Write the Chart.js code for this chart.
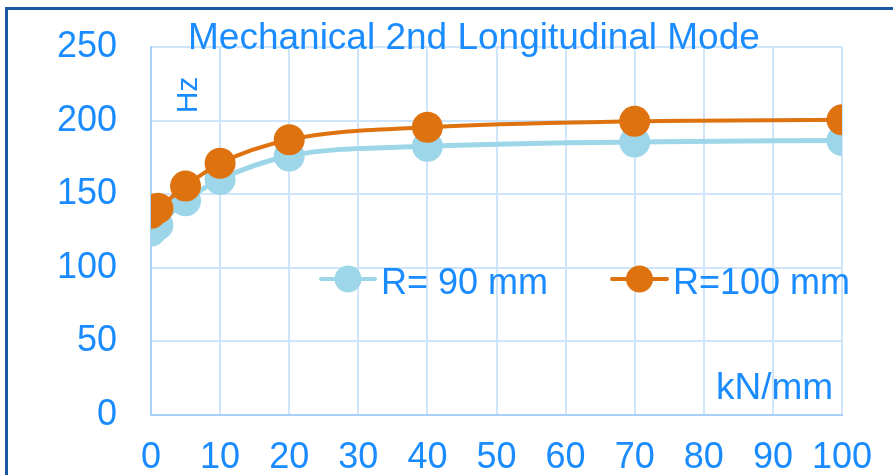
<!DOCTYPE html>
<html>
<head>
<meta charset="utf-8">
<script src="https://cdn.jsdelivr.net/npm/chart.js@4"></script>
<style>
  html, body { margin: 0; padding: 0; background: #fff; overflow: hidden; }
  #wrap { position: relative; width: 893px; height: 475px; }
  #frame {
    position: absolute; left: 5px; top: 7px; width: 1000px; height: 1000px;
    border: 3px solid #1b58a2; pointer-events: none;
  }
</style>
</head>
<body>
<div id="wrap">
  <canvas id="modeChart" width="893" height="475"></canvas>
  <div id="frame"></div>
</div>
<script>
  // stiffness (kN/mm)
  const stiffness = [0, 1, 5, 10, 20, 40, 70, 100];
  // frequency (Hz)
  const freqR90 = [125, 129, 145.5, 160, 176, 182.5, 185.5, 186.5];
  const freqR100 = [137, 140.5, 155.5, 171, 187, 195.5, 199.5, 200.5];
  const seriesLabels = ['R= 90 mm', 'R=100 mm'];
  const xTicks = [0, 10, 20, 30, 40, 50, 60, 70, 80, 90, 100];
  const yTicks = [0, 50, 100, 150, 200, 250];

  const textBlue = '#1a8cff';
  const fontFam = '"Liberation Sans", Arial, sans-serif';

  function toPoints(vals) {
    return stiffness.map((x, i) => ({ x: x, y: vals[i] }));
  }

  // 제목, 축 이름, 범례는 그림 안에 직접 그림
  const overlayText = {
    id: 'overlayText',
    afterDraw(chart) {
      const c = chart.ctx;
      c.save();
      c.fillStyle = textBlue;
      c.textBaseline = 'alphabetic';
      c.textAlign = 'left';

      c.font = '37px ' + fontFam;
      c.fillText('Mechanical 2nd Longitudinal Mode', 188, 49);

      c.font = '37px ' + fontFam;
      c.fillText('kN/mm', 716, 399);

      c.save();
      c.translate(197, 95);
      c.rotate(-Math.PI / 2);
      c.textAlign = 'center';
      c.font = '30px ' + fontFam;
      c.fillText('Hz', 0, 0);
      c.restore();

      // legend
      const items = [
        { x1: 321, x2: 375, tx: 381 },
        { x1: 612, x2: 667, tx: 673 }
      ];
      const y = 279;
      chart.data.datasets.forEach((ds, i) => {
        const it = items[i];
        c.strokeStyle = ds.borderColor;
        c.lineWidth = 4;
        c.lineCap = 'round';
        c.beginPath();
        c.moveTo(it.x1, y);
        c.lineTo(it.x2, y);
        c.stroke();
        c.fillStyle = ds.pointBackgroundColor;
        c.beginPath();
        c.arc((it.x1 + it.x2) / 2, y, 13.5, 0, Math.PI * 2);
        c.fill();
        c.fillStyle = textBlue;
        c.font = '36px ' + fontFam;
        c.fillText(seriesLabels[i], it.tx, y + 15);
      });
      c.restore();
    }
  };

  const ctx = document.getElementById('modeChart').getContext('2d');

  const chart = new Chart(ctx, {
    type: 'line',
    data: {
      datasets: [{
        label: seriesLabels[0],
        data: toPoints(freqR90),
        borderColor: '#9dd6e9',
        backgroundColor: '#9dd6e9',
        pointBackgroundColor: '#9dd6e9',
        borderWidth: 5,
        pointRadius: 15.5,
        pointBorderWidth: 0,
        cubicInterpolationMode: 'monotone',
        order: 2
      }, {
        label: seriesLabels[1],
        data: toPoints(freqR100),
        borderColor: '#de720f',
        backgroundColor: '#de720f',
        pointBackgroundColor: '#de720f',
        borderWidth: 4,
        pointRadius: 15.5,
        pointBorderWidth: 0,
        cubicInterpolationMode: 'monotone',
        order: 1
      }]
    },
    options: {
      responsive: false,
      animation: false,
      devicePixelRatio: 1,
      layout: { padding: { top: 47, right: 51, left: 0, bottom: 0 } },
      plugins: {
        legend: { display: false },
        title: { display: false },
        tooltip: { enabled: false }
      },
      scales: {
        x: {
          type: 'linear',
          min: 0,
          max: 100,
          afterBuildTicks: (s) => { s.ticks = xTicks.map(v => ({ value: v })); },
          afterFit: (s) => { s.height = 60; s.paddingLeft = 0; s.paddingRight = 0; },
          ticks: {
            color: textBlue,
            font: { family: fontFam, size: 36 },
            padding: 21,
            maxRotation: 0
          },
          grid: { color: '#cfe5fb', lineWidth: 2, drawTicks: false },
          border: { color: '#a9d1f7', width: 2 }
        },
        y: {
          min: 0,
          max: 250,
          afterBuildTicks: (s) => { s.ticks = yTicks.map(v => ({ value: v })); },
          afterFit: (s) => { s.width = 151; s.paddingTop = 0; s.paddingBottom = 0; },
          ticks: {
            color: textBlue,
            font: { family: fontFam, size: 36 },
            padding: 34
          },
          grid: { color: '#cfe5fb', lineWidth: 2, drawTicks: false },
          border: { color: '#a9d1f7', width: 2 }
        }
      }
    },
    plugins: [overlayText]
  });
</script>
</body>
</html>
